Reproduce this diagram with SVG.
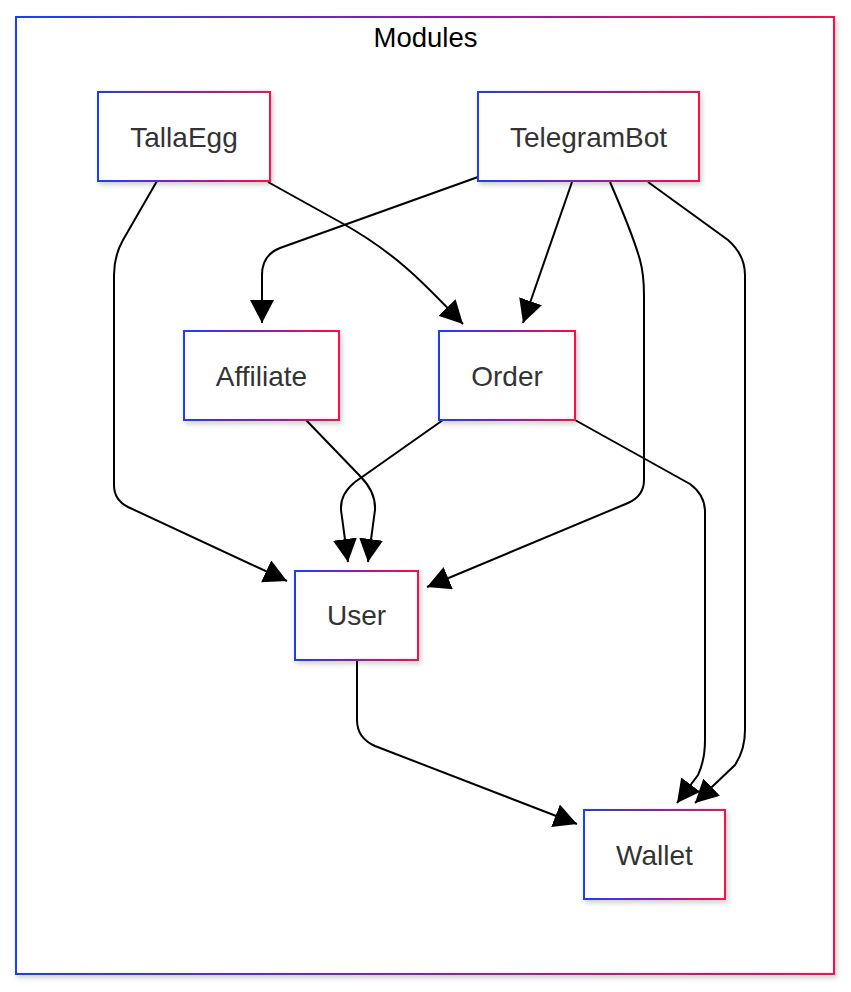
<svg xmlns="http://www.w3.org/2000/svg" width="851" height="992" viewBox="0 0 851 992">
<defs>
<linearGradient id="g" x1="0" y1="0" x2="1" y2="0">
<stop offset="0" stop-color="#1a3dff"/>
<stop offset="0.5" stop-color="#8a1fb0"/>
<stop offset="1" stop-color="#ff0a4c"/>
</linearGradient>
<filter id="sh" x="-10%" y="-10%" width="130%" height="130%">
<feDropShadow dx="2" dy="3" stdDeviation="2.5" flood-color="#000" flood-opacity="0.18"/>
</filter>
<marker id="arr" markerUnits="userSpaceOnUse" markerWidth="25" markerHeight="25" refX="23" refY="12" orient="auto">
<path d="M0,0 L23,12 L0,24 z" fill="#000"/>
</marker>
<style>
.box{fill:#fff;stroke:url(#g);stroke-width:2;filter:url(#sh)}
.lbl{font-family:"Liberation Sans",Arial,sans-serif;font-size:28px;fill:#333;text-anchor:middle}
.ttl{font-family:"Liberation Sans",Arial,sans-serif;font-size:27.5px;fill:#000;text-anchor:middle}
.e{fill:none;stroke:#000;stroke-width:2;marker-end:url(#arr)}
</style>
</defs>
<rect x="0" y="0" width="851" height="992" fill="#fff"/>
<g id="cluster-Modules">
<rect class="box" x="16" y="17" width="818" height="957"/>
<text class="ttl" x="425.5" y="47">Modules</text>
</g>
<g id="edges">
<path class="e" d="M157,181 L123,240 Q114,256 114,275 L114,485 Q114,500 128,507 L287,581"/>
<path class="e" d="M268,182 L340,222 C400,255 430,290 463,324"/>
<path class="e" d="M478,177 L280,248 Q262,255 262,275 L262,323"/>
<path class="e" d="M572,182 L523,323"/>
<path class="e" d="M610,182 Q633,235 640,260 Q644,275 644,295 L644,480 Q644,496 628,503 L427,587"/>
<path class="e" d="M648,182 L728,240 Q745,255 745,275 L745,730 Q745,750 735,765 L695,803"/>
<path class="e" d="M575,420 L690,484 Q705,495 705,512 L705,740 Q705,760 698,775 L677,803"/>
<path class="e" d="M306,420 L360,476 Q376,492 375,510 L368,562"/>
<path class="e" d="M443,420 L355,482 Q340,494 341,510 L348,562"/>
<path class="e" d="M357,660 L357,720 Q357,738 375,746 L577,824"/>
</g>
<g id="TallaEgg">
<rect class="box" x="98" y="92" width="172" height="89"/>
<text class="lbl" x="184" y="147">TallaEgg</text>
</g>
<g id="TelegramBot">
<rect class="box" x="478" y="92" width="221" height="89"/>
<text class="lbl" x="588.5" y="147">TelegramBot</text>
</g>
<g id="Affiliate">
<rect class="box" x="184" y="331" width="155" height="89"/>
<text class="lbl" x="261.5" y="386">Affiliate</text>
</g>
<g id="Order">
<rect class="box" x="439" y="331" width="136" height="89"/>
<text class="lbl" x="507" y="386">Order</text>
</g>
<g id="User">
<rect class="box" x="295" y="571" width="123" height="89"/>
<text class="lbl" x="356.5" y="625">User</text>
</g>
<g id="Wallet">
<rect class="box" x="584" y="810" width="141" height="89"/>
<text class="lbl" x="654.5" y="865">Wallet</text>
</g>
</svg>
